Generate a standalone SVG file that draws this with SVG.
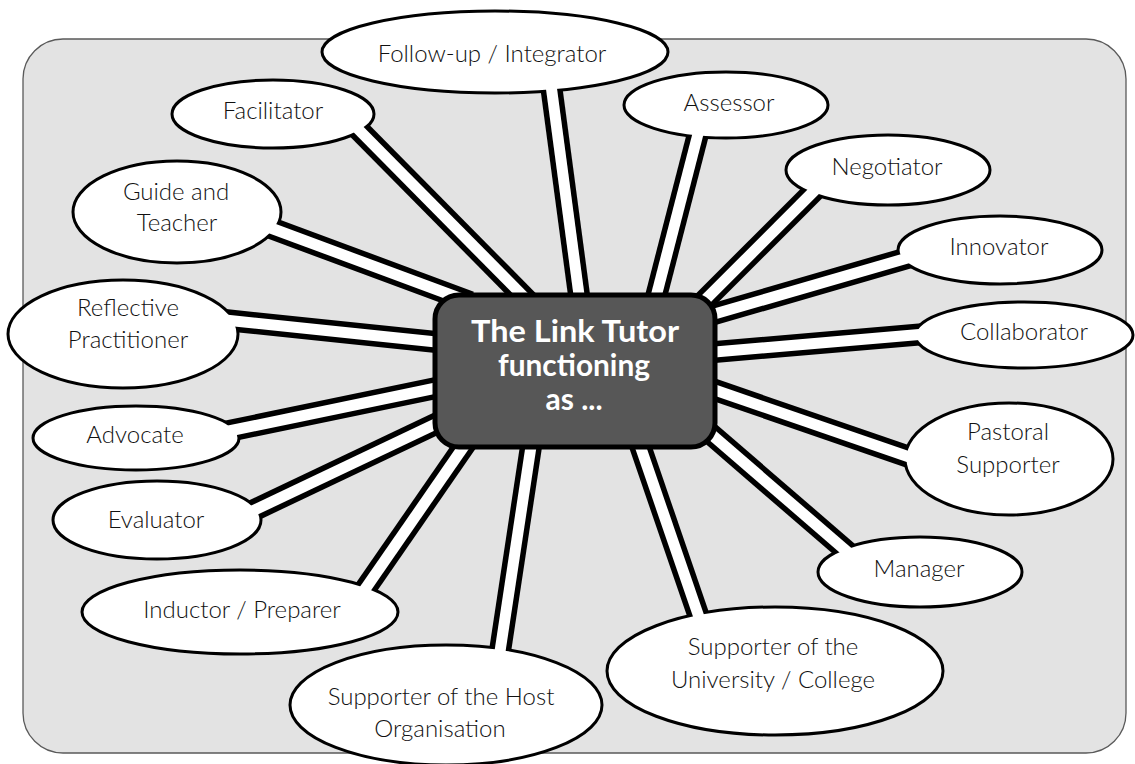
<svg xmlns="http://www.w3.org/2000/svg" width="1135" height="764" viewBox="0 0 1135 764">
  <style>
    .panel { fill: #e3e3e3; stroke: #5a5a5a; stroke-width: 1.3; }
    .role ellipse { fill: #ffffff; stroke: #000000; stroke-width: 3; }
    .role text { font-family: "Lato", "Liberation Sans", sans-serif; font-weight: 300; font-size: 24px; fill: #111111; text-anchor: middle; }
    .band-outer { stroke: #000000; stroke-width: 22; stroke-linecap: butt; fill: none; }
    .band-inner { stroke: #ffffff; stroke-width: 11; stroke-linecap: butt; fill: none; }
    .hub rect { fill: #575757; stroke: #000000; stroke-width: 5; }
    .hub text { font-family: "Lato", "Liberation Sans", sans-serif; font-weight: 700; font-size: 30px; fill: #ffffff; text-anchor: middle; }
  </style>
  <defs>
    <!-- hides the black band edges inside every role ellipse -->
    <mask id="outsideRoles" maskUnits="userSpaceOnUse" x="0" y="0" width="1135" height="764">
      <rect x="0" y="0" width="1135" height="764" fill="#ffffff"/>
      <g fill="#000000">
        <ellipse cx="495" cy="52" rx="173" ry="41"/>
        <ellipse cx="273" cy="114" rx="101" ry="34"/>
        <ellipse cx="726" cy="105" rx="102" ry="33"/>
        <ellipse cx="888" cy="170" rx="102" ry="35"/>
        <ellipse cx="1000" cy="250" rx="102" ry="34"/>
        <ellipse cx="1024" cy="335" rx="109" ry="33"/>
        <ellipse cx="1009" cy="459" rx="104" ry="56"/>
        <ellipse cx="920" cy="572" rx="102" ry="35"/>
        <ellipse cx="775" cy="671" rx="168" ry="64"/>
        <ellipse cx="446" cy="705" rx="156" ry="60"/>
        <ellipse cx="240" cy="612" rx="158" ry="42"/>
        <ellipse cx="157" cy="520" rx="104" ry="39"/>
        <ellipse cx="136" cy="438" rx="103" ry="32"/>
        <ellipse cx="123" cy="334" rx="115" ry="54"/>
        <ellipse cx="177" cy="212" rx="104" ry="51"/>
      </g>
    </mask>
  </defs>

  <!-- backdrop panel -->
  <rect class="panel" x="23" y="39" width="1103" height="714" rx="40" ry="40"/>

  <!-- role nodes -->
  <g id="node-follow-up" class="role">
    <ellipse cx="495" cy="52" rx="173" ry="41"/>
    <text x="492" y="62">Follow-up / Integrator</text>
  </g>
  <g id="node-facilitator" class="role">
    <ellipse cx="273" cy="114" rx="101" ry="34"/>
    <text x="273" y="119">Facilitator</text>
  </g>
  <g id="node-assessor" class="role">
    <ellipse cx="726" cy="105" rx="102" ry="33"/>
    <text x="729" y="111">Assessor</text>
  </g>
  <g id="node-negotiator" class="role">
    <ellipse cx="888" cy="170" rx="102" ry="35"/>
    <text x="887" y="175">Negotiator</text>
  </g>
  <g id="node-innovator" class="role">
    <ellipse cx="1000" cy="250" rx="102" ry="34"/>
    <text x="999" y="255">Innovator</text>
  </g>
  <g id="node-collaborator" class="role">
    <ellipse cx="1024" cy="335" rx="109" ry="33"/>
    <text x="1024" y="340">Collaborator</text>
  </g>
  <g id="node-pastoral" class="role">
    <ellipse cx="1009" cy="459" rx="104" ry="56"/>
    <text x="1008" y="440">Pastoral</text>
    <text x="1008" y="473">Supporter</text>
  </g>
  <g id="node-manager" class="role">
    <ellipse cx="920" cy="572" rx="102" ry="35"/>
    <text x="919" y="577">Manager</text>
  </g>
  <g id="node-university" class="role">
    <ellipse cx="775" cy="671" rx="168" ry="64"/>
    <text x="773" y="655">Supporter of the</text>
    <text x="773" y="688">University / College</text>
  </g>
  <g id="node-host" class="role">
    <ellipse cx="446" cy="705" rx="156" ry="60"/>
    <text x="441" y="705">Supporter of the Host</text>
    <text x="440" y="737">Organisation</text>
  </g>
  <g id="node-inductor" class="role">
    <ellipse cx="240" cy="612" rx="158" ry="42"/>
    <text x="242" y="618">Inductor / Preparer</text>
  </g>
  <g id="node-evaluator" class="role">
    <ellipse cx="157" cy="520" rx="104" ry="39"/>
    <text x="156" y="528">Evaluator</text>
  </g>
  <g id="node-advocate" class="role">
    <ellipse cx="136" cy="438" rx="103" ry="32"/>
    <text x="135" y="443">Advocate</text>
  </g>
  <g id="node-reflective" class="role">
    <ellipse cx="123" cy="334" rx="115" ry="54"/>
    <text x="128" y="316">Reflective</text>
    <text x="128" y="348">Practitioner</text>
  </g>
  <g id="node-guide" class="role">
    <ellipse cx="177" cy="212" rx="104" ry="51"/>
    <text x="176" y="200">Guide and</text>
    <text x="177" y="231">Teacher</text>
  </g>

  <!-- double-line spokes from each role to the hub -->
  <g id="connectors">
    <g class="band-outer" mask="url(#outsideRoles)">
      <line x1="551" y1="85" x2="585" y2="340"/>
      <line x1="699" y1="130" x2="650" y2="320"/>
      <line x1="817" y1="188" x2="680" y2="325"/>
      <line x1="911" y1="257" x2="680" y2="324"/>
      <line x1="925" y1="334" x2="680" y2="355"/>
      <line x1="915" y1="459" x2="680" y2="378"/>
      <line x1="851" y1="555" x2="690" y2="416"/>
      <line x1="701" y1="623" x2="633" y2="425"/>
      <line x1="499" y1="658" x2="535" y2="420"/>
      <line x1="361" y1="595" x2="480" y2="423"/>
      <line x1="244" y1="515" x2="465" y2="410"/>
      <line x1="224" y1="432" x2="465" y2="382"/>
      <line x1="225" y1="320" x2="465" y2="345"/>
      <line x1="268" y1="227" x2="470" y2="302"/>
      <line x1="356" y1="127" x2="530" y2="303"/>
    </g>
    <g class="band-inner">
      <line x1="551" y1="85" x2="585" y2="340"/>
      <line x1="699" y1="130" x2="650" y2="320"/>
      <line x1="817" y1="188" x2="680" y2="325"/>
      <line x1="911" y1="257" x2="680" y2="324"/>
      <line x1="925" y1="334" x2="680" y2="355"/>
      <line x1="915" y1="459" x2="680" y2="378"/>
      <line x1="851" y1="555" x2="690" y2="416"/>
      <line x1="701" y1="623" x2="633" y2="425"/>
      <line x1="499" y1="658" x2="535" y2="420"/>
      <line x1="361" y1="595" x2="480" y2="423"/>
      <line x1="244" y1="515" x2="465" y2="410"/>
      <line x1="224" y1="432" x2="465" y2="382"/>
      <line x1="225" y1="320" x2="465" y2="345"/>
      <line x1="268" y1="227" x2="470" y2="302"/>
      <line x1="356" y1="127" x2="530" y2="303"/>
    </g>
  </g>

  <!-- central hub -->
  <g id="node-hub" class="hub">
    <rect x="435" y="295" width="280" height="152" rx="24" ry="24"/>
    <text x="575" y="342" textLength="208" lengthAdjust="spacingAndGlyphs">The Link Tutor</text>
    <text x="574" y="376" textLength="152" lengthAdjust="spacingAndGlyphs">functioning</text>
    <text x="574" y="410">as ...</text>
  </g>
</svg>
